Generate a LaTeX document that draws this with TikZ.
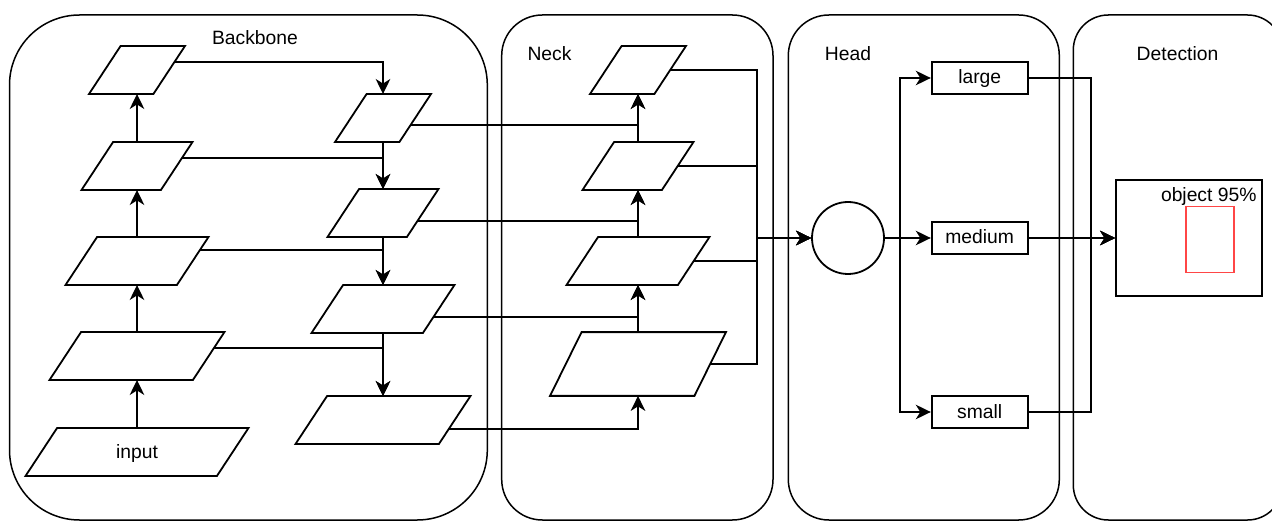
\documentclass[tikz,border=0pt]{standalone}
\usepackage{fontspec}
\setmainfont{Liberation Sans}
\usetikzlibrary{arrows.meta,calc}
\definecolor{boxred}{RGB}{255,70,70}
\newcommand\mypara[6]{%
  \node[pnode, minimum width=#4pt, minimum height=#5pt] (#1) at (#2,#3) {#6};
  \draw[ln] ([xshift=15.75pt]#1.north west) -- ([xshift=15.75pt]#1.north east)
    -- ([xshift=-15.75pt]#1.south east) -- ([xshift=-15.75pt]#1.south west) -- cycle;
}
\begin{document}
\begin{tikzpicture}[x=1pt,y=-1pt,
  every node/.style={font=\fontsize{19.3}{23}\selectfont},
  ln/.style={line width=1.8pt, black, line join=miter},
  arr/.style={ln, -{Stealth[length=15pt,width=14.5pt,inset=4.5pt]}},
  cont/.style={draw, line width=1.5pt, inner sep=0pt},
  pnode/.style={rectangle, inner sep=0pt, text height=12pt, text depth=0pt},
  hbox/.style={draw, line width=1.8pt, rectangle, inner sep=0pt, minimum width=96pt, minimum height=32pt, text height=12pt, text depth=0pt},
  lbl/.style={anchor=base, inner sep=0pt}]
\useasboundingbox (0,0) rectangle (1272,521);
% containers
\node[cont, rounded corners=70pt, minimum width=477.8pt, minimum height=505pt] (bb) at (248.4,267.5) {};
\node[cont, rounded corners=40.6pt, minimum width=271.3pt, minimum height=505pt] (nk) at (637.35,267.5) {};
\node[cont, rounded corners=40.6pt, minimum width=271pt, minimum height=505pt] (hd) at (923.8,267.5) {};
\node[cont, rounded corners=35pt, minimum width=209.2pt, minimum height=505pt] (dt) at (1177.9,267.5) {};
\node[lbl] (tbb) at (255,44.3) {Backbone};
\node[lbl] (tnk) at (549.5,60.7) {Neck};
\node[lbl] (thd) at (848,60.7) {Head};
\node[lbl] (tdt) at (1177.5,60.7) {Detection};
% backbone left column
\mypara{P1}{137}{70}{64}{47.5}{}
\mypara{P2}{137}{166}{79}{47.5}{}
\mypara{P3}{137}{261}{111}{47.5}{}
\mypara{P4}{137}{356}{143}{47.5}{}
\mypara{P5}{137}{452}{191}{47.5}{input}
% backbone right column
\mypara{R1}{383}{118}{64}{47.5}{}
\mypara{R2}{383}{213}{79}{47.5}{}
\mypara{R3}{383}{309}{111}{47.5}{}
\mypara{R4}{383}{420}{143}{47.5}{}
% neck
\mypara{N1}{638}{70}{64}{47.5}{}
\mypara{N2}{638}{166}{79}{47.5}{}
\mypara{N3}{638}{261}{111}{47.5}{}
\mypara{N4}{638}{364}{144}{63.3}{}
% head
\node[draw, circle, line width=1.8pt, minimum size=72pt, inner sep=0pt] (C) at (848,238) {};
\node[hbox] (L) at (979.7,78) {large};
\node[hbox] (M) at (979.7,238) {medium};
\node[hbox] (S) at (979.7,412) {small};
\coordinate (m1) at (757,238);
\coordinate (s1) at (900,238);
% detection
\node[draw, line width=1.8pt, minimum width=146pt, minimum height=116.7pt, inner sep=0pt] (D) at (1189,238) {};
\coordinate (s2) at (1091,238);
\node[anchor=base east, inner sep=0pt] (obj) at (1256.7,201.7) {object 95\%};
\node[draw=boxred, line width=1.3pt, minimum width=48pt, minimum height=66.6pt, inner sep=0pt] (bx) at (1210,239.5) {};
% backbone connectors
\draw[arr] (P5.north) -- (P4.south);
\draw[arr] (P4.north) -- (P3.south);
\draw[arr] (P3.north) -- (P2.south);
\draw[arr] (P2.north) -- (P1.south);
\draw[arr] ($(P1.east)+(5.3pt,8pt)$) -| (R1.north);
\draw[arr] ($(P2.east)+(5.3pt,8pt)$) -| (R2.north);
\draw[arr] ($(P3.east)+(7.3pt,11pt)$) -| (R3.north);
\draw[arr] ($(P4.east)+(5.3pt,8pt)$) -| (R4.north);
\draw[arr] (R1.south) -- (R2.north);
\draw[arr] (R2.south) -- (R3.north);
\draw[arr] (R3.south) -- (R4.north);
% backbone to neck
\draw[arr] ($(R1.east)+(-4.6pt,-7pt)$) -| (N1.south);
\draw[arr] ($(R2.east)+(-5.3pt,-8pt)$) -| (N2.south);
\draw[arr] ($(R3.east)+(-5.3pt,-8pt)$) -| (N3.south);
\draw[arr] ($(R4.east)+(-6pt,-9pt)$) -| (N4.south);
\draw[arr] (N4.north) -- (N3.south);
\draw[arr] (N3.north) -- (N2.south);
\draw[arr] (N2.north) -- (N1.south);
% neck to head
\draw[arr] (N1.east) -| (m1) -- (C.west);
\draw[arr] (N2.east) -| (m1) -- (C.west);
\draw[arr] (N3.east) -| (m1) -- (C.west);
\draw[arr] (N4.east) -| (m1) -- (C.west);
\draw[arr] (C.east) -- (s1) |- (L.west);
\draw[arr] (C.east) -- (M.west);
\draw[arr] (C.east) -- (s1) |- (S.west);
% head to detection
\draw[arr] (L.east) -| (s2) -- (D.west);
\draw[arr] (M.east) -- (D.west);
\draw[arr] (S.east) -| (s2) -- (D.west);
\end{tikzpicture}
\end{document}
